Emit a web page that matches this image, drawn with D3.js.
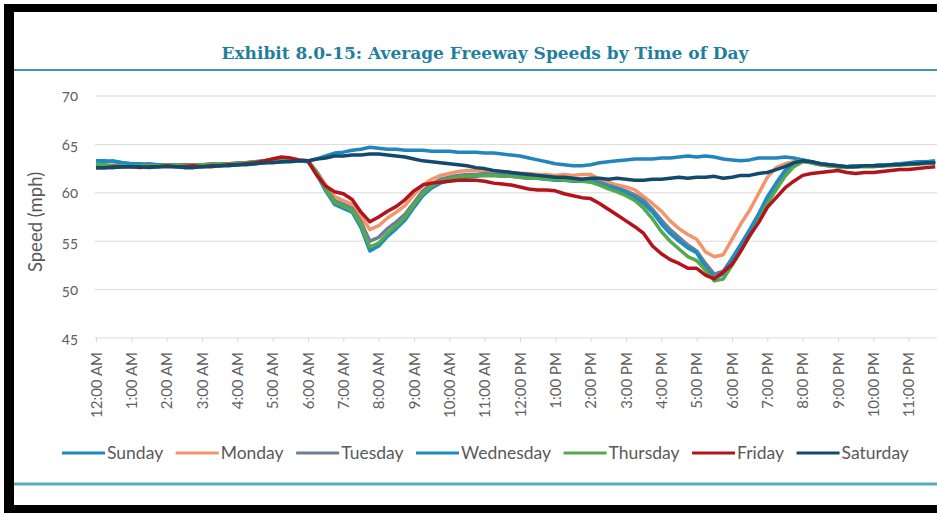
<!DOCTYPE html>
<html>
<head>
<meta charset="utf-8">
<script src="https://cdn.jsdelivr.net/npm/d3@7"></script>
<style>
  body { margin: 0; background: #fff; }
  svg text { font-family: "Lato", "Open Sans", sans-serif; fill: #595959; }
</style>
</head>
<body>
<svg id="chart"></svg>
<script>
// 15-minute readings, 12:00 AM .. 11:45 PM (96 values per day)
const days = ["Sunday", "Monday", "Tuesday", "Wednesday", "Thursday", "Friday", "Saturday"];
const dayColors = ["#2385be", "#f2956b", "#6d7f94", "#1c8cc4", "#55a94c", "#b3131b", "#124a6d"];

const sunday = [63.3,63.3,63.2,63.1,63.0,63.0,62.9,62.9,62.9,62.8,62.9,62.9,62.9,62.8,62.9,62.9,63.0,63.0,63.1,63.1,63.2,63.2,63.3,63.3,
  63.3,63.5,63.8,64.1,64.2,64.4,64.5,64.7,64.6,64.5,64.5,64.4,64.4,64.4,64.3,64.3,64.3,64.2,64.2,64.2,64.1,64.1,64.0,63.9,
  63.8,63.6,63.4,63.2,63.0,62.9,62.8,62.8,62.9,63.1,63.2,63.3,63.4,63.5,63.5,63.5,63.6,63.6,63.7,63.8,63.7,63.8,63.7,63.5,
  63.4,63.3,63.4,63.6,63.6,63.6,63.7,63.6,63.4,63.1,62.9,62.8,62.7,62.7,62.8,62.8,62.8,62.9,62.9,63.0,63.1,63.2,63.2,63.3];
const monday = [62.9,62.8,62.8,62.7,62.7,62.8,62.8,62.7,62.8,62.8,62.9,62.9,62.9,62.9,63.0,63.0,63.0,63.1,63.2,63.3,63.5,63.6,63.5,63.4,
  63.3,62.2,60.8,59.6,59.2,58.8,57.6,56.2,56.6,57.4,58.0,58.7,59.8,60.8,61.4,61.8,62.0,62.2,62.3,62.3,62.3,62.2,62.2,62.1,
  62.0,62.0,61.9,61.9,61.8,61.9,61.8,61.9,61.9,61.4,61.1,60.8,60.6,60.3,59.6,58.9,58.1,57.1,56.3,55.7,55.2,53.9,53.4,53.6,
  55.2,56.8,58.2,59.9,61.6,62.6,63.0,63.2,63.3,63.1,62.9,62.8,62.7,62.7,62.7,62.8,62.8,62.8,62.9,62.9,63.0,63.0,63.1,63.1];
const tuesday = [62.8,62.8,62.7,62.7,62.8,62.8,62.8,62.9,62.9,62.8,62.9,62.9,62.9,63.0,63.0,63.0,63.1,63.1,63.2,63.3,63.4,63.4,63.4,63.3,
  63.3,62.1,60.5,59.2,58.8,58.4,57.0,55.0,55.4,56.3,57.0,57.8,59.0,60.2,60.9,61.4,61.6,61.8,61.9,61.9,62.0,61.9,61.9,61.8,
  61.8,61.7,61.6,61.6,61.5,61.5,61.4,61.4,61.4,61.1,60.8,60.5,60.2,59.8,59.2,58.3,57.2,56.2,55.4,54.6,54.0,52.7,51.6,51.9,
  53.2,54.6,56.0,57.6,59.4,60.8,62.1,62.9,63.3,63.2,63.0,62.9,62.8,62.7,62.8,62.8,62.8,62.9,62.9,63.0,63.0,63.1,63.1,63.2];
const wednesday = [63.3,63.2,63.3,63.1,63.0,62.9,63.0,62.9,62.9,62.8,62.9,62.8,62.8,62.9,62.8,62.9,62.9,63.0,63.0,63.1,63.2,63.2,63.3,63.3,
  63.2,61.9,60.2,58.8,58.4,58.0,56.4,54.0,54.5,55.5,56.3,57.2,58.5,59.7,60.5,61.0,61.3,61.5,61.6,61.7,61.8,61.8,61.7,61.7,
  61.6,61.5,61.5,61.4,61.3,61.3,61.2,61.2,61.2,60.9,60.6,60.4,60.0,59.5,58.9,58.0,56.8,55.8,55.0,54.3,53.8,52.3,51.2,51.6,
  53.2,54.7,56.2,57.8,59.6,61.0,62.3,63.1,63.4,63.2,63.0,62.9,62.8,62.7,62.8,62.8,62.8,62.9,62.9,63.0,63.0,63.1,63.1,63.2];
const thursday = [62.9,62.9,62.8,62.8,62.7,62.8,62.8,62.8,62.9,62.9,62.8,62.9,62.9,62.9,63.0,63.0,63.0,63.1,63.2,63.2,63.3,63.4,63.4,63.3,
  63.3,62.1,60.4,59.0,58.6,58.2,56.7,54.4,54.8,55.8,56.6,57.5,58.8,59.9,60.7,61.2,61.4,61.6,61.7,61.8,61.8,61.8,61.7,61.7,
  61.6,61.5,61.5,61.4,61.4,61.3,61.3,61.2,61.1,60.8,60.4,60.1,59.7,59.2,58.4,57.3,56.0,55.0,54.2,53.4,53.0,52.0,50.9,51.1,
  52.5,54.0,55.5,57.1,58.9,60.3,61.7,62.7,63.2,63.1,62.9,62.8,62.7,62.6,62.7,62.7,62.7,62.8,62.8,62.9,62.9,63.0,63.0,63.1];
const friday = [62.6,62.6,62.7,62.7,62.7,62.6,62.7,62.7,62.8,62.7,62.7,62.8,62.7,62.8,62.8,62.9,62.9,63.0,63.1,63.3,63.5,63.7,63.6,63.4,
  63.3,61.8,60.7,60.1,59.9,59.3,58.0,57.0,57.5,58.1,58.6,59.3,60.2,60.8,61.0,61.1,61.2,61.3,61.3,61.3,61.2,61.0,60.9,60.8,
  60.6,60.4,60.3,60.3,60.2,59.9,59.7,59.5,59.4,58.9,58.3,57.7,57.1,56.5,55.8,54.5,53.7,53.1,52.7,52.2,52.2,51.5,51.1,51.8,
  52.6,54.0,55.6,56.9,58.5,59.5,60.5,61.2,61.8,62.0,62.1,62.2,62.3,62.1,62.0,62.1,62.1,62.2,62.3,62.4,62.4,62.5,62.6,62.7];
const saturday = [62.6,62.6,62.6,62.7,62.7,62.7,62.6,62.7,62.7,62.7,62.6,62.6,62.7,62.7,62.8,62.8,62.9,62.9,63.0,63.1,63.1,63.2,63.2,63.3,
  63.3,63.5,63.6,63.8,63.8,63.9,63.9,64.0,64.0,63.9,63.8,63.7,63.5,63.3,63.2,63.1,63.0,62.9,62.8,62.6,62.5,62.3,62.2,62.1,
  62.0,61.9,61.8,61.7,61.6,61.6,61.5,61.4,61.5,61.5,61.4,61.5,61.4,61.3,61.3,61.4,61.4,61.5,61.6,61.5,61.6,61.6,61.7,61.5,
  61.6,61.8,61.8,62.0,62.1,62.4,62.7,63.1,63.3,63.2,63.0,62.9,62.8,62.7,62.7,62.8,62.8,62.8,62.9,62.9,63.0,63.0,63.1,63.1];

const hourLabels = ["12:00 AM","1:00 AM","2:00 AM","3:00 AM","4:00 AM","5:00 AM","6:00 AM","7:00 AM","8:00 AM",
  "9:00 AM","10:00 AM","11:00 AM","12:00 PM","1:00 PM","2:00 PM","3:00 PM","4:00 PM","5:00 PM","6:00 PM",
  "7:00 PM","8:00 PM","9:00 PM","10:00 PM","11:00 PM"];
const speedTicks = [45, 50, 55, 60, 65, 70];

const series = [sunday, monday, tuesday, wednesday, thursday, friday, saturday];

var W = 937, H = 513;
var svg = d3.select('#chart').attr('width', W).attr('height', H);

// frame
svg.append('rect').attr('x', 0).attr('y', 0).attr('width', W).attr('height', H).attr('fill', '#fff');
svg.append('rect').attr('x', 4).attr('y', 4).attr('width', W).attr('height', 8).attr('fill', '#000');
svg.append('rect').attr('x', 4).attr('y', 4).attr('width', 10).attr('height', H).attr('fill', '#000');
svg.append('rect').attr('x', 4).attr('y', 505).attr('width', W).attr('height', 8).attr('fill', '#000');

svg.append('text')
  .attr('x', 485).attr('y', 59)
  .attr('text-anchor', 'middle')
  .style('font-family', '"DejaVu Serif", "Liberation Serif", serif')
  .style('font-weight', 'bold')
  .style('font-size', '17px')
  .style('fill', '#1f7f9c')
  .text('Exhibit 8.0-15: Average Freeway Speeds by Time of Day');

svg.append('line').attr('x1', 14).attr('x2', W).attr('y1', 70).attr('y2', 70)
  .attr('stroke', '#3e9aa9').attr('stroke-width', 2);
svg.append('line').attr('x1', 14).attr('x2', W).attr('y1', 484).attr('y2', 484)
  .attr('stroke', '#5aabbd').attr('stroke-width', 3);

// scales
const x = d3.scaleLinear().domain([0, 24]).range([96, 944]);
const y = d3.scaleLinear().domain([45, 70]).range([338, 96]);

// grid + y labels
const g = svg.append('g');
g.selectAll('.grid').data(speedTicks).enter().append('line')
  .attr('x1', 95).attr('x2', W)
  .attr('y1', d => y(d)).attr('y2', d => y(d))
  .attr('stroke', '#d9d9d9').attr('stroke-width', 1);

const yAxis = d3.axisLeft(y).tickValues(speedTicks).tickSize(0).tickPadding(0);
g.append('g').attr('transform', 'translate(78,0)').call(yAxis)
  .call(s => s.select('.domain').remove())
  .selectAll('text')
  .style('font-size', '15px')
  .style('font-variant-numeric', 'oldstyle-nums')
  .style('fill', '#606060');

svg.append('text')
  .attr('transform', 'translate(42,222) rotate(-90)')
  .attr('text-anchor', 'middle')
  .style('font-size', '18.5px')
  .text('Speed (mph)');

// x axis
const xAxis = d3.axisBottom(x)
  .tickValues(d3.range(0, 24))
  .tickFormat(d => hourLabels[d])
  .tickSize(4).tickSizeOuter(0);
const xg = g.append('g').attr('transform', 'translate(0,' + y(45) + ')').call(xAxis);
xg.select('.domain').remove();
xg.selectAll('.tick line').attr('stroke', '#d9d9d9');
xg.selectAll('text')
  .attr('transform', 'rotate(-90)')
  .attr('text-anchor', 'end')
  .attr('x', -14).attr('y', 0).attr('dy', '0.35em')
  .style('font-size', '15px')
  .style('fill', '#606060');

// lines
const line = d3.line()
  .x((d, i) => x(i / 4))
  .y(d => y(d));

svg.append('clipPath').attr('id', 'clip').append('rect')
  .attr('x', 90).attr('y', 80).attr('width', W - 90).attr('height', 270);

svg.append('g').attr('clip-path', 'url(#clip)')
  .selectAll('path').data(series).enter().append('path')
  .attr('d', d => line(d))
  .attr('fill', 'none')
  .attr('stroke', (d, i) => dayColors[i])
  .attr('stroke-width', 3.5)
  .attr('stroke-linejoin', 'round');

// legend
const legend = svg.append('g');
var lx = 62;
days.forEach(function(name, i) {
  legend.append('line')
    .attr('x1', lx).attr('x2', lx + 43).attr('y1', 453).attr('y2', 453)
    .attr('stroke', dayColors[i]).attr('stroke-width', 3);
  const t = legend.append('text')
    .attr('x', lx + 45).attr('y', 453).attr('dy', '0.35em')
    .style('font-size', '17.5px')
    .text(name);
  lx += 45 + t.node().getComputedTextLength() + 12.5;
});
</script>
</body>
</html>
